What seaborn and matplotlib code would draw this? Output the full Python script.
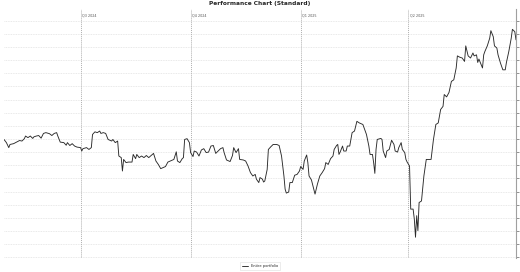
import numpy as np
import pandas as pd
import matplotlib
matplotlib.use("Agg")
import matplotlib.pyplot as plt
import seaborn as sns

start_date = "2024-04-28"
end_date = "2025-06-30"
series_name = "Entire portfolio"
title = "Performance Chart (Standard)"
quarter_dates = ["2024-07-01", "2024-10-01", "2025-01-01", "2025-04-01"]
quarter_labels = ["Q3 2024", "Q4 2024", "Q1 2025", "Q2 2025"]
y_ticks = list(range(-45, 50, 5))

# day offsets from start_date
days = [0, 2, 4, 5, 8, 11, 13, 15, 17, 18, 20, 22, 24, 25, 27, 29, 31, 33, 35, 38,
        40, 42, 44, 45, 47, 50, 52, 53, 55, 57, 59, 61, 64, 65, 66, 69, 71, 73, 74, 76,
        78, 80, 81, 83, 85, 87, 90, 91, 93, 95, 96, 98, 99, 100, 102, 104, 107, 108, 110, 111,
        113, 115, 117, 119, 121, 124, 125, 127, 129, 131, 133, 135, 137, 139, 142, 144, 145, 147, 149, 150,
        151, 153, 155, 156, 158, 159, 161, 163, 165, 167, 169, 171, 173, 175, 177, 179, 181, 183, 184, 186,
        189, 191, 192, 194, 196, 197, 200, 202, 204, 206, 208, 210, 211, 213, 214, 216, 217, 218, 220, 221,
        223, 225, 228, 230, 232, 234, 235, 236, 238, 239, 241, 243, 245, 247, 248, 250, 251, 253, 254, 255,
        257, 259, 260, 262, 264, 266, 268, 269, 271, 273, 275, 276, 278, 279, 280, 281, 283, 284, 286, 287,
        289, 291, 293, 295, 297, 300, 303, 305, 306, 308, 309, 310, 311, 312, 315, 316, 317, 319, 320, 322,
        324, 326, 327, 329, 330, 332, 333, 335, 336, 337, 339, 340, 342, 343, 344, 345, 346, 347, 349, 351,
        353, 355, 357, 359, 361, 363, 365, 367, 368, 370, 372, 374, 376, 378, 379, 381, 383, 385, 386, 388,
        390, 392, 393, 395, 396, 397, 400, 401, 402, 404, 406, 407, 409, 410, 412, 413, 415, 417, 419, 420,
        422, 424, 425, 427, 428]

values = [-0.2, -1.4, -3.3, -2.1, -1.8, -1.1, -0.6, -0.8, 0.1, 1.1, 0.5, 1.1, 0.2, 0.8, 1.1, 1.3, 0.3, 2.1, 2.4, 2.0,
          1.3, 2.1, 2.4, 1.1, -1.2, -1.4, -2.4, -1.4, -2.5, -1.8, -2.7, -3.1, -3.3, -4.6, -3.7, -3.3, -4.0, -3.3, 1.7, 2.7,
          2.4, 3.0, 2.1, 2.4, 2.1, -0.2, -0.8, -0.2, -1.4, -0.8, -6.5, -7.1, -12.2, -7.8, -9.0, -8.8, -8.8, -5.9, -7.5, -5.9,
          -7.1, -6.5, -7.1, -6.3, -7.1, -5.9, -5.5, -8.4, -9.7, -11.3, -10.9, -10.5, -8.8, -8.4, -7.8, -4.9, -8.4, -9.0, -7.5, -7.1,
          -0.2, 0.1, -1.4, -5.2, -6.7, -4.6, -5.0, -6.5, -4.2, -3.7, -5.2, -5.0, -2.7, -2.5, -5.5, -4.6, -3.7, -3.3, -5.2, -8.0,
          -8.6, -6.3, -3.3, -5.2, -3.7, -7.8, -8.0, -8.4, -10.3, -12.8, -14.1, -13.5, -15.3, -16.6, -14.7, -15.3, -16.4, -16.0, -11.6, -4.0,
          -3.0, -2.1, -2.1, -2.5, -6.5, -14.1, -19.1, -20.6, -20.2, -16.6, -16.6, -13.8, -13.5, -12.2, -10.5, -11.6, -8.4, -6.1, -9.0, -14.1,
          -15.6, -19.1, -21.0, -17.2, -14.1, -12.8, -11.3, -9.0, -9.7, -7.5, -6.5, -4.0, -2.5, -2.1, -5.9, -5.0, -2.7, -4.6, -4.6, -2.7,
          -2.7, 2.4, 3.0, 6.7, 6.1, 5.5, 1.7, -2.7, -5.9, -5.9, -9.0, -13.1, -4.0, -0.2, 0.2, -0.2, -4.6, -7.1, -4.6, -4.0,
          -0.5, -2.1, -4.6, -5.0, -3.3, -1.4, -4.0, -5.2, -7.8, -8.8, -10.3, -26.7, -26.7, -30.5, -37.4, -29.2, -34.9, -24.2, -23.6, -14.1,
          -7.8, -7.8, -7.8, -0.2, 5.5, 6.1, 11.2, 12.4, 16.9, 16.0, 17.7, 21.9, 22.5, 27.0, 31.6, 31.1, 30.8, 29.5, 35.4, 31.6,
          30.8, 32.7, 31.6, 32.0, 29.1, 30.4, 27.0, 32.0, 33.3, 35.4, 38.3, 41.2, 38.9, 35.4, 34.6, 32.0, 28.9, 26.3, 26.3, 29.1,
          33.3, 38.3, 41.7, 40.8, 37.7]

df = pd.DataFrame({
    "date": pd.Timestamp(start_date) + pd.to_timedelta(days, unit="D"),
    "value": values,
    "series": series_name,
})

sns.set_style("white")
plt.rcParams["font.family"] = ["DejaVu Sans"]

fig = plt.figure(figsize=(5.2, 2.72), dpi=100)
ax = fig.add_axes([0.0077, 0.0515, 0.9846, 0.915])

sns.lineplot(data=df, x="date", y="value", hue="series", palette=["#2a2a2a"],
             linewidth=0.65, ax=ax, legend=True)

ax.set_xlim(pd.Timestamp(start_date), pd.Timestamp(end_date))
ax.set_ylim(-45.3, 49.4)
ax.set_yticks(y_ticks)
ax.yaxis.tick_right()
ax.tick_params(axis="y", which="both", length=2, width=0.5, color="#666666",
               labelright=False, right=True)
ax.set_xticks([])
ax.set_xlabel("")
ax.set_ylabel("")
ax.grid(axis="y", color="#e2e2e2", linestyle=(0, (1, 1)), linewidth=0.6)
ax.set_axisbelow(True)

for s in ["top", "bottom", "left"]:
    ax.spines[s].set_visible(False)
ax.spines["right"].set_color("#a0a0a0")
ax.spines["right"].set_linewidth(0.8)

for qd, ql in zip(quarter_dates, quarter_labels):
    t = pd.Timestamp(qd)
    ax.axvline(t, color="#b0b0b0", linestyle=(0, (1, 1)), linewidth=0.7, zorder=1)
    ax.text(t + pd.Timedelta(days=1.5), 49.4 - 1.5, ql, fontsize=2.4, color="#555555",
            ha="left", va="top")

fig.suptitle(title, fontsize=4.2, fontweight="bold", y=0.997, va="top")

leg = ax.legend(loc="center", bbox_to_anchor=(0.5, 0.022), bbox_transform=fig.transFigure,
                fontsize=2.6, frameon=True, handlelength=1.8, borderpad=0.5,
                fancybox=False, edgecolor="#dddddd")
leg.get_frame().set_linewidth(0.5)

fig.savefig("out.png", dpi=100)
